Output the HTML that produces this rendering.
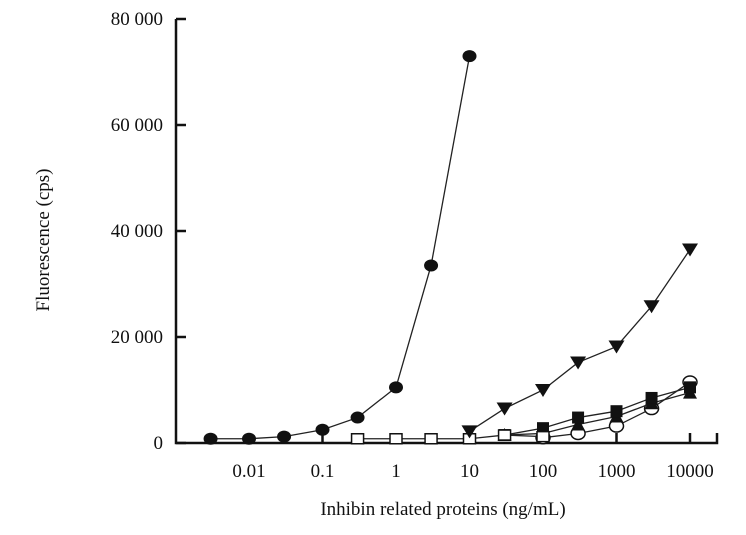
<!DOCTYPE html>
<html><head><meta charset="utf-8"><style>
body{margin:0;background:#fff}
svg text{font-family:"Liberation Serif",serif;fill:#111}
</style></head><body>
<svg width="746" height="530">
<g id="axes"></g><g id="series"></g>
</svg>
<script>
const xTicks=[0.01,0.1,1,10,100,1000,10000];
const xTickLabels=["0.01","0.1","1","10","100","1000","10000"];
const yTicks=[0,20000,40000,60000,80000];
const yTickLabels=["0","20 000","40 000","60 000","80 000"];
const xCirc=[0.003,0.01,0.03,0.1,0.3,1,3,10];
const yCirc=[800,800,1200,2500,4800,10500,33500,73000];
const xOpenSq=[0.3,1,3,10,30,100];
const yOpenSq=[800,800,800,800,1500,1200];
const xTriDown=[10,30,100,300,1000,3000,10000];
const yTriDown=[2200,6500,10000,15200,18200,25800,36500];
const xFillSq=[30,100,300,1000,3000,10000];
const yFillSq=[1500,2800,4800,6000,8500,10500];
const xTriUp=[30,100,300,1000,3000,10000];
const yTriUp=[1500,1800,3500,5000,7500,9500];
const xOpenCirc=[100,300,1000,3000,10000];
const yOpenCirc=[1000,1800,3200,6500,11500];

const NS="http://www.w3.org/2000/svg";
const X=v=>396+73.5*Math.log10(v);
const Y=v=>443-v*(424/80000);
function mk(tag,at,par){const e=document.createElementNS(NS,tag);for(const k in at)e.setAttribute(k,at[k]);par.appendChild(e);return e;}
const ax=document.getElementById('axes'),se=document.getElementById('series');
let e=mk('path',{d:'M176,19 V443 H717 V433',fill:'none',stroke:'#111','stroke-width':2.5},ax);


xTicks.forEach((t,i)=>{
 let l=mk('line',{x1:X(t),x2:X(t),y1:443,y2:433,stroke:'#111','stroke-width':2.5},ax);
 
 
 let tx=mk('text',{x:X(t),y:477,'text-anchor':'middle','font-size':19},ax);tx.textContent=xTickLabels[i];
 
 
});
yTicks.forEach((t,i)=>{
 let l=mk('line',{x1:176,x2:186,y1:Y(t),y2:Y(t),stroke:'#111','stroke-width':2.5},ax);
 
 
 let tx=mk('text',{x:163,y:Y(t)+6,'text-anchor':'end','font-size':19},ax);tx.textContent=yTickLabels[i];
 
 
});
let xl=mk('text',{x:443,y:515,'text-anchor':'middle','font-size':19},ax);xl.textContent='Inhibin related proteins (ng/mL)';


let yl=mk('text',{x:0,y:0,'text-anchor':'middle','font-size':19,transform:'translate(49,240) rotate(-90)'},ax);yl.textContent='Fluorescence (cps)';



function series(xs,ys,shape,name){
 const g=mk('g',{},se);
 
 
 mk('polyline',{points:xs.map((x,i)=>X(x)+','+Y(ys[i])).join(' '),fill:'none',stroke:'#222','stroke-width':1.3},g);
 xs.forEach((x,i)=>{
  const cx=X(x),cy=Y(ys[i]);let m;
  if(shape==='circ')m=mk('ellipse',{cx,cy,rx:7,ry:6,fill:'#111'},g);
  else if(shape==='ocirc')m=mk('ellipse',{cx,cy,rx:7,ry:6,fill:'#fff',stroke:'#111','stroke-width':1.5},g);
  else if(shape==='osq')m=mk('rect',{x:cx-6,y:cy-5,width:12,height:10,fill:'#fff',stroke:'#111','stroke-width':1.5},g);
  else if(shape==='sq')m=mk('rect',{x:cx-6,y:cy-6,width:12,height:12,fill:'#111'},g);
  else if(shape==='tdown')m=mk('polygon',{points:`${cx-8},${cy-6} ${cx+8},${cy-6} ${cx},${cy+7}`,fill:'#111'},g);
  else m=mk('polygon',{points:`${cx-7},${cy+6} ${cx+7},${cy+6} ${cx},${cy-7}`,fill:'#111'},g);
  
  
 });
}
series(xOpenCirc,yOpenCirc,'ocirc','open-circle-series');
series(xTriUp,yTriUp,'tup','filled-triangle-series');
series(xFillSq,yFillSq,'sq','filled-square-series');
series(xOpenSq,yOpenSq,'osq','open-square-series');
series(xTriDown,yTriDown,'tdown','inverted-triangle-series');
series(xCirc,yCirc,'circ','filled-circle-series');
</script>
</body></html>
